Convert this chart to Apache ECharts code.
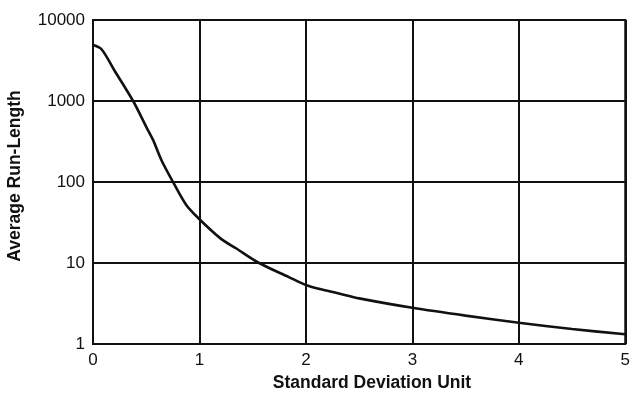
<!DOCTYPE html>
<html><head><meta charset="utf-8">
<script src="https://cdn.jsdelivr.net/npm/echarts@6/dist/echarts.min.js"></script>
<style>html,body{margin:0;padding:0;background:#fff}#c{width:633px;height:396px}</style>
</head><body><div id="c"></div>
<script>
const xValues = [0, 0.08, 0.2, 0.377, 0.5, 0.564, 0.642, 0.75, 0.876, 1.0, 1.2, 1.343, 1.56, 1.84, 2.0, 2.12, 2.31, 2.5, 3.0, 3.5, 4.0, 4.5, 5.0];
const arlValues = [4900, 4350, 2400, 1000, 480, 331, 187, 101, 52, 34.7, 20, 15.2, 10, 6.7, 5.35, 4.8, 4.2, 3.66, 2.8, 2.24, 1.83, 1.53, 1.32];
const xTicks = [0, 1, 2, 3, 4, 5];
const yTicks = [1, 10, 100, 1000, 10000];
const xTitle = 'Standard Deviation Unit';
const yTitle = 'Average Run-Length';

const chart = echarts.init(document.getElementById('c'), null, {renderer: 'canvas'});
const font = 'Liberation Sans, Arial, Helvetica, sans-serif';
chart.setOption({
  animation: false,
  grid: {left: 93, right: 4, top: 20, bottom: 52, containLabel: false,
         show: true, borderColor: '#111', borderWidth: 2, backgroundColor: 'transparent'},
  xAxis: {
    type: 'value', min: xTicks[0], max: xTicks[xTicks.length - 1], interval: 1,
    axisLine: {show: false},
    axisTick: {show: false},
    axisLabel: {fontFamily: font, fontSize: 17, color: '#111', margin: 8, formatter: v => String(v)},
    splitLine: {show: true, lineStyle: {color: '#111', width: 2}}
  },
  yAxis: {
    type: 'log', logBase: 10, min: yTicks[0], max: yTicks[yTicks.length - 1],
    axisLine: {show: false},
    axisTick: {show: false},
    axisLabel: {fontFamily: font, fontSize: 17, color: '#111', margin: 8, formatter: v => String(Math.round(v))},
    splitLine: {show: true, lineStyle: {color: '#111', width: 2}},
    minorSplitLine: {show: false}
  },
  series: [{
    type: 'line', data: xValues.map((x, i) => [x, arlValues[i]]),
    smooth: 0.3, symbol: 'none', clip: true,
    lineStyle: {color: '#111', width: 2.6}
  }],
  graphic: [
    {type: 'text', x: 372, y: 383, silent: true,
     style: {text: xTitle, font: 'bold 17.5px ' + font, fill: '#111', align: 'center', verticalAlign: 'middle'}},
    {type: 'text', x: 15, y: 176, rotation: Math.PI / 2, silent: true,
     style: {text: yTitle, font: 'bold 17.5px ' + font, fill: '#111', align: 'center', verticalAlign: 'middle'}}
  ]
});
</script></body></html>
